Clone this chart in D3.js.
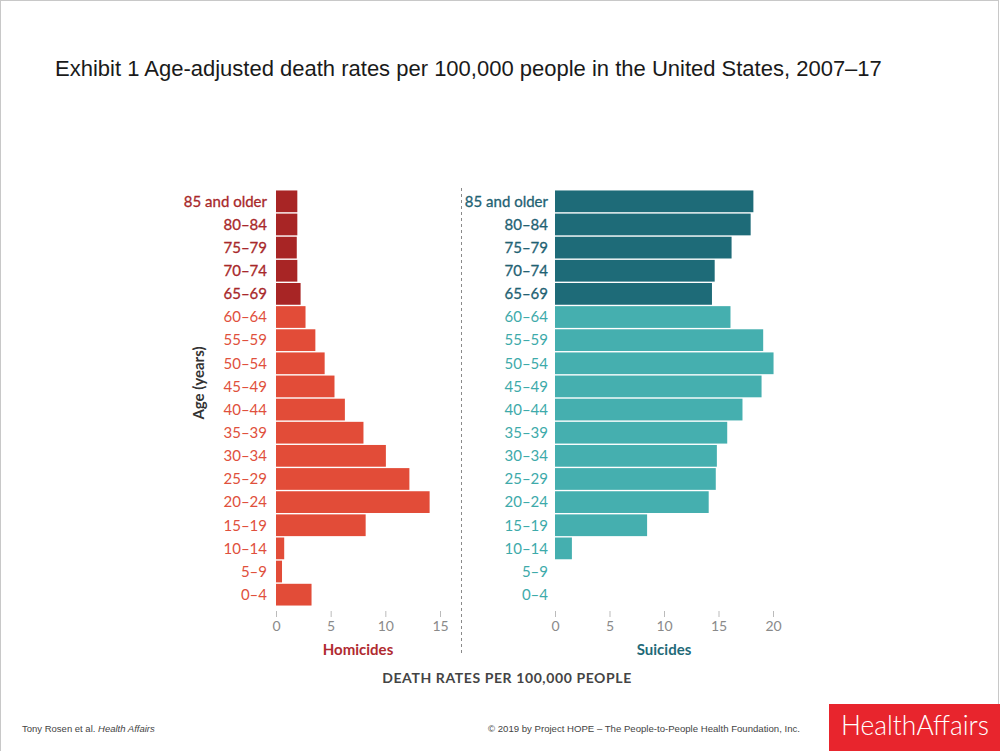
<!DOCTYPE html>
<html><head><meta charset="utf-8">
<script src="https://cdn.jsdelivr.net/npm/d3@7"></script>
<style>
html,body{margin:0;padding:0;background:#fff;}
svg{display:block;}
</style></head>
<body>
<svg id="c" width="1000" height="751"></svg>
<script>
const ageGroups = ["85 and older","80–84","75–79","70–74","65–69","60–64","55–59","50–54","45–49","40–44","35–39","30–34","25–29","20–24","15–19","10–14","5–9","0–4"];
const homicides = [1.95,1.95,1.9,1.95,2.25,2.7,3.6,4.45,5.35,6.3,8.0,10.05,12.2,14.05,8.2,0.75,0.55,3.25];
const suicides  = [18.2,17.95,16.2,14.65,14.4,16.1,19.1,20.05,18.95,17.2,15.8,14.85,14.75,14.1,8.45,1.55,0,0];
const olderGroups = ["85 and older","80–84","75–79","70–74","65–69"];
const homicideTicks = [0,5,10,15];
const suicideTicks = [0,5,10,15,20];

const svg = d3.select("#c");
// page border
svg.append("rect").attr("x",0.5).attr("y",0.5).attr("width",998).attr("height",760)
  .attr("fill","none").attr("stroke","#c8c8c8");

svg.append("text").attr("x",55).attr("y",76)
  .attr("font-family","Liberation Sans, Arial, sans-serif").attr("font-size",22).attr("fill","#1a1a1a")
  .text("Exhibit 1 Age-adjusted death rates per 100,000 people in the United States, 2007–17");

const y = d3.scaleBand().domain(ageGroups).range([190,606]).paddingInner(0.06).paddingOuter(0.02);
const xH = d3.scaleLinear().domain([0,15]).range([276,440]);
const xS = d3.scaleLinear().domain([0,20]).range([555,773]);

const isOld = d => olderGroups.includes(d);
const labelFont = "Lato, 'Open Sans', sans-serif";

const panels = [
  {vals:homicides, x:xH, ticks:homicideTicks, dark:"#a82525", light:"#e24c38", darkT:"#a8282a", lightT:"#e0503c", name:"Homicides", nameC:"#b02a30", labelX:267},
  {vals:suicides, x:xS, ticks:suicideTicks, dark:"#1e6b78", light:"#45afaf", darkT:"#1f6273", lightT:"#3eaaaa", name:"Suicides", nameC:"#1f6a78", labelX:548}
];

panels.forEach(p => {
  const g = svg.append("g");
  g.selectAll("rect.bar").data(ageGroups).join("rect").attr("class","bar")
    .attr("x", p.x(0)).attr("y", d => y(d))
    .attr("width", (d,i) => p.x(p.vals[i]) - p.x(0))
    .attr("height", y.bandwidth())
    .attr("fill", d => isOld(d) ? p.dark : p.light);
  g.selectAll("text.lab").data(ageGroups).join("text").attr("class","lab")
    .attr("x", p.labelX).attr("y", d => y(d) + y.bandwidth()/2)
    .attr("dy","0.35em").attr("text-anchor","end")
    .attr("font-family",labelFont).attr("font-size",15)
    .attr("font-weight", 400)
    .attr("stroke", d => isOld(d) ? p.darkT : "none").attr("stroke-width",0.3)
    .attr("fill", d => isOld(d) ? p.darkT : p.lightT)
    .text(d => d);
  const ax = g.append("g").attr("transform","translate(0,611)")
    .call(d3.axisBottom(p.x).tickValues(p.ticks).tickSize(6).tickPadding(4).tickFormat(d3.format("d")));
  ax.select(".domain").remove();
  ax.selectAll(".tick line").attr("stroke","#bbbbbb");
  ax.selectAll(".tick text").attr("fill","#8a8a8a").attr("font-size",14).attr("font-family",labelFont);
  g.append("text").attr("x",(p.x.range()[0]+p.x.range()[1])/2).attr("y",650).attr("dy","0.35em")
    .attr("text-anchor","middle").attr("font-family",labelFont).attr("font-size",15).attr("font-weight",700)
    .attr("fill",p.nameC).text(p.name);
});

// divider
svg.append("line").attr("x1",461.5).attr("x2",461.5).attr("y1",188).attr("y2",656)
  .attr("stroke","#8a8a8a").attr("stroke-width",1).attr("stroke-dasharray","3,3");

// y axis title
svg.append("text").attr("transform","translate(199,383) rotate(-90)").attr("dy","0.35em")
  .attr("text-anchor","middle").attr("font-family",labelFont).attr("font-size",15).attr("font-weight",700)
  .attr("fill","#333").text("Age (years)");

svg.append("text").attr("x",507).attr("y",678).attr("dy","0.35em").attr("text-anchor","middle")
  .attr("font-family",labelFont).attr("font-size",14).attr("font-weight",700).attr("letter-spacing","0.6px")
  .attr("fill","#444").text("DEATH RATES PER 100,000 PEOPLE");

// footer
const f1 = svg.append("text").attr("x",22).attr("y",732)
  .attr("font-family","Liberation Sans, Arial, sans-serif").attr("font-size",9.5).attr("fill","#444");
f1.append("tspan").text("Tony Rosen et al. ");
f1.append("tspan").attr("font-style","italic").text("Health Affairs");
svg.append("text").attr("x",488).attr("y",732)
  .attr("font-family","Liberation Sans, Arial, sans-serif").attr("font-size",9.6).attr("fill","#444")
  .text("© 2019 by Project HOPE – The People-to-People Health Foundation, Inc.");
svg.append("rect").attr("x",829).attr("y",704).attr("width",171).attr("height",47).attr("fill","#e8252d");
svg.append("text").attr("x",841).attr("y",735).attr("font-family","Lato, 'Open Sans', sans-serif")
  .attr("font-size",27).attr("font-weight",300).attr("fill","#fff")
  .attr("textLength",148).attr("lengthAdjust","spacingAndGlyphs").text("HealthAffairs");
</script>
</body></html>
